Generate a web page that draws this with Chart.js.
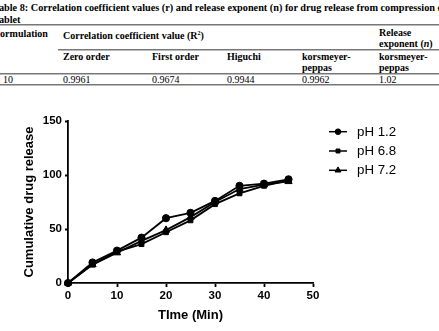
<!DOCTYPE html>
<html>
<head>
<meta charset="utf-8">
<script src="https://cdn.jsdelivr.net/npm/chart.js@4.4.1/dist/chart.umd.min.js"></script>
<style>
  html, body { margin:0; padding:0; background:#fff; width:439px; height:331px; overflow:hidden; position:relative; }
  .t { position:absolute; font-family:"Liberation Serif","Times New Roman",serif; font-size:10px; color:#000; white-space:nowrap; line-height:11px; }
  .b { font-weight:bold; }
  .cap { font-size:10.25px; font-weight:bold; line-height:12px; }
  .ln { position:absolute; height:1px; background:#777; border-bottom:1px solid #bbb; }
  canvas { position:absolute; left:0; top:0; }
</style>
</head>
<body>
<div class="t cap" style="left:-7px; top:2px;">Table 8: Correlation coefficient values (r) and release exponent (n) for drug release from compression coated</div>
<div class="t cap" style="left:-7px; top:14px;">Tablet</div>
<div class="ln" style="left:0; width:439px; top:24px;"></div>
<div class="t b" style="left:-6px; top:28px;">Formulation</div>
<div class="t b" style="left:63px; top:28px;">Correlation coefficient value (R<sup style="font-size:6px;vertical-align:4px;">2</sup>)</div>
<div class="t b" style="left:379px; top:27px;">Release<br>exponent (<i>n</i>)</div>
<div class="ln" style="left:58px; width:381px; top:49px;"></div>
<div class="t b" style="left:63px; top:51px;">Zero order</div>
<div class="t b" style="left:152px; top:51px;">First order</div>
<div class="t b" style="left:227px; top:51px;">Higuchi</div>
<div class="t b" style="left:302px; top:51px;">korsmeyer-<br>peppas</div>
<div class="t b" style="left:379px; top:51px;">korsmeyer-<br>peppas</div>
<div class="ln" style="left:0; width:439px; top:73px;"></div>
<div class="t" style="left:3px; top:74px;">10</div>
<div class="t" style="left:63px; top:74px;">0.9961</div>
<div class="t" style="left:152px; top:74px;">0.9674</div>
<div class="t" style="left:227px; top:74px;">0.9944</div>
<div class="t" style="left:302px; top:74px;">0.9962</div>
<div class="t" style="left:379px; top:74px;">1.02</div>
<div class="ln" style="left:0; width:439px; top:84px;"></div>

<canvas id="c" width="439" height="331"></canvas>
<script>
const times = [0, 5, 10, 15, 20, 25, 30, 35, 40, 45];
const ph12 = [0, 19, 30, 42, 60, 65, 76, 90, 92, 96];
const ph68 = [0, 17, 29, 36, 47, 58, 73, 83, 90, 95];
const ph72 = [0, 17, 28, 39, 49, 61, 75, 87, 91, 94];
const seriesLabels = ['pH 1.2', 'pH 6.8', 'pH 7.2'];
const xTitle = 'TIme (Min)';
const yTitle = 'Cumulative drug release';

function pts(vals) { return times.map((t, i) => ({x: t, y: vals[i]})); }

const styles = ['circle', 'rect', 'triangle'];
const radii = [3.6, 3.4, 4.2];
const legendRadii = [2.8, 2.8, 3.4];
const datasets = [ph12, ph68, ph72].map((v, i) => ({
  label: seriesLabels[i],
  data: pts(v),
  borderColor: '#000',
  backgroundColor: '#000',
  borderWidth: 1.8,
  pointStyle: styles[i],
  pointRadius: radii[i],
  pointBorderWidth: 1,
  tension: 0,
  clip: false
}));

const legendPlugin = {
  id: 'customLegend',
  afterDraw(chart) {
    const ctx = chart.ctx;
    const x0 = 329, x1 = 347, tx = 357;
    const ys = [131.7, 151, 170.3];
    chart.data.datasets.forEach((ds, i) => {
      const y = ys[i];
      ctx.save();
      ctx.strokeStyle = '#000';
      ctx.fillStyle = '#000';
      ctx.lineWidth = 1.5;
      ctx.beginPath(); ctx.moveTo(x0, y); ctx.lineTo(x1, y); ctx.stroke();
      ctx.lineWidth = 1;
      Chart.helpers.drawPoint(ctx, {pointStyle: ds.pointStyle, radius: legendRadii[i], borderWidth: 1, rotation: 0}, (x0 + x1) / 2, y);
      ctx.font = '13.3px "Liberation Sans", Arial, sans-serif';
      ctx.textBaseline = 'middle';
      ctx.textAlign = 'left';
      ctx.fillText(ds.label, tx, y + 0.5);
      ctx.restore();
    });
  }
};

const tickFont = {family: '"Liberation Sans", Arial, sans-serif', size: 11.5, weight: 'bold'};
const titleFont = {family: '"Liberation Sans", Arial, sans-serif', size: 13, weight: 'bold'};

new Chart(document.getElementById('c'), {
  type: 'line',
  data: {datasets},
  plugins: [legendPlugin],
  options: {
    responsive: false,
    animation: false,
    events: [],
    layout: {padding: {left: 0, right: 126, top: 121, bottom: 0}},
    plugins: {legend: {display: false}, tooltip: {enabled: false}},
    scales: {
      x: {
        type: 'linear', min: 0, max: 50,
        ticks: {stepSize: 10, color: '#000', font: tickFont, padding: 2, maxRotation: 0},
        grid: {drawOnChartArea: false, drawTicks: true, tickLength: 4, tickColor: '#000', tickWidth: 1.8},
        border: {color: '#000', width: 1.8},
        title: {display: true, text: xTitle, color: '#000', font: titleFont, padding: {top: 0, bottom: 8}},
        afterFit(s) { s.height = 48; }
      },
      y: {
        type: 'linear', min: 0, max: 150,
        ticks: {stepSize: 50, color: '#000', font: tickFont, padding: 3},
        grid: {drawOnChartArea: false, drawTicks: true, tickLength: 3, tickColor: '#000', tickWidth: 1.8},
        border: {color: '#000', width: 1.8},
        title: {display: true, text: yTitle, color: '#000', font: titleFont, padding: {top: 22, bottom: 0}},
        afterFit(s) { s.width = 68; }
      }
    }
  }
});
</script>
</body>
</html>
